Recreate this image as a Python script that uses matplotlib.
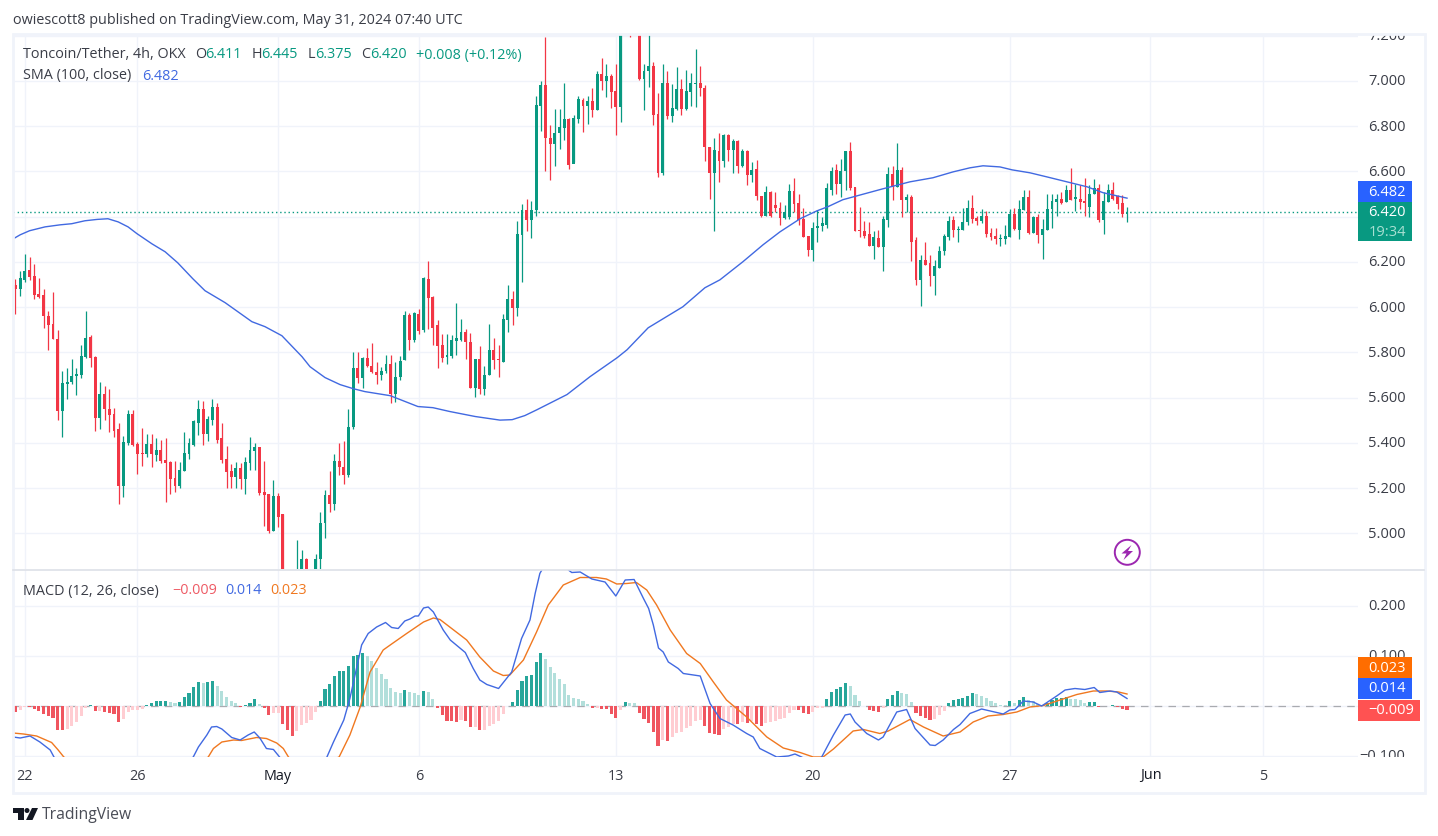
import numpy as np
import matplotlib
matplotlib.use('Agg')
import matplotlib.pyplot as plt
from matplotlib.patches import Circle, Polygon, Rectangle

plt.rcParams['font.family'] = ['Open Sans', 'DejaVu Sans']

# 4h candles, first one is Apr 21 16:00
opens = [
    6.10, 6.08, 6.12, 6.165, 6.14, 6.06, 6.055, 5.96, 5.925, 5.86,
    5.54, 5.66, 5.67, 5.695, 5.70, 5.78, 5.87, 5.78, 5.51, 5.615,
    5.55, 5.53, 5.46, 5.21, 5.40, 5.53, 5.395, 5.355, 5.35, 5.395,
    5.345, 5.37, 5.325, 5.315, 5.245, 5.21, 5.275, 5.35, 5.39, 5.49,
    5.55, 5.44, 5.50, 5.56, 5.42, 5.33, 5.275, 5.25, 5.29, 5.24,
    5.31, 5.365, 5.38, 5.185, 5.175, 5.01, 5.165, 5.085, 4.80, 4.72,
    4.70, 4.78, 4.885, 4.80, 4.78, 4.885, 5.045, 5.17, 5.13, 5.32,
    5.295, 5.26, 5.47, 5.73, 5.685, 5.775, 5.74, 5.715, 5.70, 5.72,
    5.75, 5.615, 5.69, 5.765, 5.965, 5.855, 5.97, 5.90, 6.125, 6.045,
    5.92, 5.835, 5.78, 5.785, 5.85, 5.855, 5.89, 5.845, 5.645, 5.77,
    5.64, 5.70, 5.81, 5.77, 5.76, 5.945, 6.035, 5.995, 6.32, 6.43,
    6.385, 6.43, 6.89, 6.98, 6.75, 6.72, 6.77, 6.79, 6.83, 6.635,
    6.83, 6.915, 6.89, 6.91, 6.87, 7.03, 7.00, 7.02, 6.955, 6.885,
    7.40, 7.45, 7.35, 7.40, 7.01, 7.045, 7.065, 6.855, 6.595, 6.99,
    6.845, 6.875, 6.965, 6.875, 6.95, 6.985, 6.99, 6.97, 6.71, 6.595,
    6.69, 6.645, 6.76, 6.695, 6.735, 6.625, 6.69, 6.585, 6.61, 6.49,
    6.405, 6.51, 6.45, 6.44, 6.395, 6.40, 6.515, 6.46, 6.39, 6.315,
    6.255, 6.35, 6.36, 6.365, 6.52, 6.605, 6.545, 6.60, 6.69, 6.53,
    6.34, 6.335, 6.325, 6.27, 6.305, 6.265, 6.385, 6.59, 6.53, 6.605,
    6.475, 6.485, 6.295, 6.12, 6.21, 6.195, 6.14, 6.175, 6.25, 6.31,
    6.385, 6.34, 6.34, 6.375, 6.44, 6.395, 6.38, 6.405, 6.33, 6.315,
    6.30, 6.30, 6.31, 6.41, 6.34, 6.43, 6.485, 6.33, 6.40, 6.32,
    6.34, 6.435, 6.465, 6.48, 6.465, 6.52, 6.48, 6.48, 6.47, 6.445,
    6.50, 6.525, 6.385, 6.465, 6.52, 6.49, 6.46, 6.411,
]
highs = [
    6.125, 6.16, 6.235, 6.22, 6.19, 6.13, 6.08, 5.985, 6.065, 5.90,
    5.72, 5.73, 5.77, 5.73, 5.835, 5.985, 5.875, 5.785, 5.67, 5.65,
    5.64, 5.555, 5.49, 5.43, 5.545, 5.545, 5.405, 5.465, 5.44, 5.44,
    5.42, 5.415, 5.42, 5.32, 5.32, 5.315, 5.45, 5.42, 5.50, 5.59,
    5.585, 5.52, 5.595, 5.575, 5.49, 5.385, 5.305, 5.315, 5.31, 5.34,
    5.425, 5.40, 5.38, 5.32, 5.175, 5.235, 5.18, 5.085, 4.82, 4.74,
    4.97, 4.925, 4.89, 4.84, 4.91, 5.095, 5.19, 5.275, 5.35, 5.40,
    5.41, 5.55, 5.80, 5.80, 5.78, 5.82, 5.84, 5.76, 5.735, 5.79,
    5.79, 5.76, 5.785, 5.985, 5.975, 5.98, 5.99, 6.135, 6.205, 6.05,
    5.945, 5.88, 5.88, 5.875, 6.02, 5.95, 5.905, 5.885, 5.77, 5.83,
    5.74, 5.925, 5.865, 5.835, 5.97, 6.10, 6.07, 6.38, 6.455, 6.48,
    6.47, 6.935, 7.00, 7.195, 6.805, 6.875, 6.875, 6.99, 6.835, 6.85,
    6.935, 6.925, 6.935, 6.97, 7.045, 7.10, 7.075, 7.03, 7.075, 7.50,
    7.52, 7.50, 7.46, 7.45, 7.075, 7.22, 7.085, 6.945, 7.075, 7.045,
    6.985, 7.06, 7.01, 7.05, 7.035, 7.14, 7.065, 6.98, 6.71, 6.75,
    6.77, 6.765, 6.765, 6.745, 6.74, 6.70, 6.695, 6.64, 6.65, 6.49,
    6.535, 6.515, 6.51, 6.465, 6.45, 6.545, 6.57, 6.50, 6.44, 6.315,
    6.375, 6.43, 6.40, 6.55, 6.62, 6.635, 6.655, 6.69, 6.73, 6.53,
    6.445, 6.38, 6.375, 6.335, 6.34, 6.405, 6.62, 6.625, 6.725, 6.62,
    6.50, 6.495, 6.31, 6.23, 6.29, 6.23, 6.21, 6.27, 6.325, 6.405,
    6.405, 6.36, 6.44, 6.475, 6.495, 6.405, 6.435, 6.425, 6.35, 6.35,
    6.325, 6.365, 6.435, 6.44, 6.475, 6.52, 6.52, 6.405, 6.41, 6.39,
    6.50, 6.50, 6.50, 6.51, 6.54, 6.615, 6.545, 6.54, 6.57, 6.54,
    6.565, 6.545, 6.51, 6.545, 6.555, 6.495, 6.495, 6.445,
]
lows = [
    5.97, 6.05, 6.11, 6.12, 6.035, 6.04, 5.91, 5.81, 5.86, 5.50,
    5.425, 5.595, 5.66, 5.61, 5.685, 5.775, 5.735, 5.455, 5.46, 5.50,
    5.45, 5.425, 5.13, 5.16, 5.39, 5.385, 5.265, 5.30, 5.34, 5.295,
    5.32, 5.31, 5.14, 5.175, 5.185, 5.20, 5.275, 5.33, 5.385, 5.435,
    5.39, 5.41, 5.48, 5.40, 5.31, 5.20, 5.20, 5.20, 5.195, 5.175,
    5.28, 5.28, 5.17, 5.035, 5.00, 5.01, 5.03, 4.75, 4.68, 4.62,
    4.68, 4.75, 4.77, 4.74, 4.75, 4.80, 4.98, 5.095, 5.105, 5.26,
    5.22, 5.25, 5.46, 5.665, 5.645, 5.735, 5.71, 5.66, 5.68, 5.71,
    5.575, 5.58, 5.68, 5.765, 5.81, 5.845, 5.88, 5.89, 5.905, 5.835,
    5.73, 5.76, 5.75, 5.775, 5.79, 5.85, 5.77, 5.645, 5.605, 5.615,
    5.61, 5.70, 5.725, 5.69, 5.76, 5.89, 5.92, 5.96, 6.11, 6.335,
    6.305, 6.405, 6.78, 6.60, 6.56, 6.625, 6.70, 6.74, 6.61, 6.64,
    6.815, 6.775, 6.81, 6.84, 6.87, 6.96, 6.93, 6.88, 6.76, 6.82,
    7.35, 7.195, 7.30, 7.005, 6.87, 6.975, 6.805, 6.575, 6.585, 6.83,
    6.82, 6.87, 6.85, 6.87, 6.89, 6.885, 6.935, 6.645, 6.48, 6.335,
    6.555, 6.62, 6.645, 6.595, 6.595, 6.62, 6.54, 6.555, 6.475, 6.40,
    6.405, 6.40, 6.42, 6.365, 6.39, 6.39, 6.42, 6.365, 6.31, 6.225,
    6.205, 6.29, 6.335, 6.35, 6.495, 6.50, 6.485, 6.52, 6.52, 6.335,
    6.31, 6.305, 6.27, 6.215, 6.265, 6.16, 6.355, 6.475, 6.53, 6.40,
    6.42, 6.205, 6.10, 6.005, 6.185, 6.095, 6.055, 6.175, 6.23, 6.295,
    6.31, 6.29, 6.34, 6.365, 6.37, 6.365, 6.37, 6.31, 6.295, 6.28,
    6.27, 6.28, 6.31, 6.34, 6.30, 6.43, 6.325, 6.33, 6.285, 6.215,
    6.34, 6.35, 6.405, 6.455, 6.465, 6.475, 6.425, 6.435, 6.405, 6.40,
    6.50, 6.375, 6.325, 6.465, 6.475, 6.435, 6.40, 6.375,
]
closes = [
    6.08, 6.13, 6.16, 6.135, 6.055, 6.045, 5.96, 5.92, 5.86, 5.54,
    5.665, 5.67, 5.695, 5.705, 5.785, 5.865, 5.775, 5.51, 5.615, 5.55,
    5.525, 5.455, 5.21, 5.405, 5.53, 5.39, 5.35, 5.35, 5.395, 5.35,
    5.37, 5.32, 5.31, 5.24, 5.21, 5.28, 5.355, 5.40, 5.495, 5.55,
    5.44, 5.505, 5.56, 5.415, 5.325, 5.27, 5.25, 5.29, 5.24, 5.315,
    5.37, 5.38, 5.18, 5.17, 5.01, 5.165, 5.075, 4.80, 4.72, 4.68,
    4.78, 4.885, 4.80, 4.78, 4.885, 5.045, 5.17, 5.13, 5.32, 5.295,
    5.26, 5.47, 5.73, 5.685, 5.775, 5.74, 5.715, 5.70, 5.72, 5.75,
    5.615, 5.69, 5.763, 5.965, 5.855, 5.975, 5.895, 6.13, 6.04, 5.91,
    5.83, 5.775, 5.79, 5.855, 5.865, 5.89, 5.845, 5.645, 5.77, 5.64,
    5.70, 5.81, 5.765, 5.765, 5.95, 6.035, 5.995, 6.325, 6.43, 6.385,
    6.43, 6.895, 6.98, 6.75, 6.72, 6.77, 6.795, 6.83, 6.63, 6.835,
    6.92, 6.89, 6.91, 6.87, 7.03, 7.00, 7.02, 6.95, 6.885, 7.40,
    7.45, 7.35, 7.40, 7.01, 7.045, 7.065, 6.85, 6.595, 6.99, 6.845,
    6.88, 6.965, 6.875, 6.955, 6.99, 6.99, 6.97, 6.71, 6.595, 6.695,
    6.645, 6.76, 6.695, 6.735, 6.625, 6.69, 6.585, 6.605, 6.49, 6.405,
    6.51, 6.405, 6.44, 6.395, 6.42, 6.515, 6.455, 6.385, 6.31, 6.255,
    6.35, 6.36, 6.37, 6.525, 6.60, 6.545, 6.60, 6.69, 6.525, 6.335,
    6.335, 6.315, 6.27, 6.31, 6.265, 6.39, 6.59, 6.53, 6.605, 6.475,
    6.485, 6.29, 6.12, 6.21, 6.185, 6.14, 6.18, 6.25, 6.315, 6.38,
    6.34, 6.345, 6.375, 6.44, 6.39, 6.38, 6.405, 6.325, 6.31, 6.30,
    6.30, 6.315, 6.41, 6.345, 6.435, 6.485, 6.33, 6.40, 6.32, 6.345,
    6.435, 6.47, 6.48, 6.46, 6.52, 6.475, 6.48, 6.465, 6.46, 6.50,
    6.525, 6.385, 6.47, 6.52, 6.48, 6.455, 6.41, 6.42,
]

sma_idx = [
    -0.5, 1, 3, 6.3, 9.5, 12, 14.8, 17.4, 19.7, 21.9, 24, 25.9, 29.1, 31.9,
    34.6, 37.8, 40.4, 44.7, 50.4, 53.2, 56.8, 61.1, 62.8, 66, 69.2, 72, 74.5,
    79.9, 85.8, 89, 92.6, 98, 103.3, 105.9, 108.6, 111.2, 117.6, 122.5, 128.3,
    130.4, 134.9, 142.3, 147, 150.2, 155.1, 159.4, 163, 167.3, 170.9, 173.2,
    176.4, 179.4, 184.9, 190.7, 195.6, 199.9, 203.5, 206.3, 209.9, 212.5,
    216.3, 219.9, 224.2, 228.5, 231.9, 237,
]
sma_vals = [
    6.302, 6.32, 6.338, 6.355, 6.364, 6.369, 6.382, 6.388, 6.391, 6.377, 6.355,
    6.325, 6.28, 6.245, 6.196, 6.126, 6.073, 6.02, 5.936, 5.914, 5.874, 5.781,
    5.737, 5.689, 5.658, 5.64, 5.627, 5.609, 5.561, 5.556, 5.539, 5.517, 5.501,
    5.503, 5.521, 5.547, 5.614, 5.693, 5.777, 5.812, 5.909, 6.002, 6.086, 6.121,
    6.201, 6.276, 6.333, 6.391, 6.426, 6.444, 6.475, 6.492, 6.523, 6.554, 6.572,
    6.598, 6.616, 6.625, 6.62, 6.607, 6.594, 6.576, 6.554, 6.532, 6.506, 6.482,
]

macd_idx = [
    -0.5, 1, 3.1, 5.2, 7.4, 8.2, 12, 20, 30, 37.9, 39, 40.8, 41.8, 42.9, 44,
    46.1, 47.9, 49.6, 50.9, 52.1, 53.5, 55, 56.3, 60, 64, 66.4, 67.8, 70, 71.3,
    72.4, 73.8, 75.2, 77, 78.9, 80.2, 81.6, 83, 84.1, 85.2, 85.9, 87, 88, 89.1,
    91.2, 92.7, 95.9, 97.6, 99, 100.5, 103, 105.8, 107.9, 109.7, 110.8, 111.8,
    114, 117, 117.9, 118.6, 120.4, 122.9, 125.7, 128, 130, 131.9, 133.9, 135,
    136, 137.1, 138.1, 139.2, 141.3, 142.4, 146, 148.1, 150.2, 153, 155.9,
    157.3, 158.7, 162.3, 164.8, 166.2, 167.6, 170, 171.9, 174.4, 176.9, 178,
    179, 181.5, 184, 185, 187.9, 190, 191.8, 195, 196.1, 197.8, 200, 201.4,
    203.5, 206, 210.6, 212, 213.1, 214.9, 217, 218.8, 222, 223.8, 225.9, 228,
    230, 231.2, 233.4, 234.8, 237,
]
macd_vals = [
    -0.063, -0.065, -0.061, -0.073, -0.089, -0.103, -0.14, -0.19, -0.16, -0.103,
    -0.083, -0.059, -0.043, -0.042, -0.047, -0.064, -0.069, -0.059, -0.053,
    -0.065, -0.086, -0.088, -0.103, -0.14, -0.14, -0.103, -0.073, -0.029, 0.014,
    0.061, 0.121, 0.144, 0.157, 0.166, 0.156, 0.154, 0.169, 0.173, 0.179, 0.179,
    0.195, 0.197, 0.187, 0.151, 0.131, 0.106, 0.074, 0.051, 0.042, 0.034, 0.067,
    0.134, 0.171, 0.224, 0.264, 0.30, 0.29, 0.271, 0.266, 0.267, 0.253, 0.247,
    0.219, 0.251, 0.252, 0.214, 0.194, 0.161, 0.115, 0.107, 0.087, 0.074, 0.064,
    0.059, 0.004, -0.026, -0.039, -0.056, -0.063, -0.086, -0.103, -0.101, -0.097,
    -0.103, -0.115, -0.103, -0.059, -0.019, -0.017, -0.033, -0.056, -0.069,
    -0.063, -0.013, -0.008, -0.046, -0.079, -0.08, -0.069, -0.048, -0.038, -0.016,
    -0.007, -0.017, -0.009, -0.008, 0.009, 0.007, -0.001, 0.019, 0.031, 0.034,
    0.032, 0.036, 0.026, 0.029, 0.027, 0.014,
]
signal_idx = [
    -0.5, 1.7, 4.5, 7.7, 9.1, 10.3, 20, 30, 41.1, 42.2, 44, 46.5, 48.2, 51.4,
    53.5, 55.7, 57.1, 58.2, 62, 69, 71.3, 73.5, 75.6, 78.4, 80.2, 83.4, 87, 89.1,
    90.5, 94.4, 96.2, 99, 101.9, 104, 105.4, 108.3, 111.1, 113.6, 116.8, 120.4,
    123.9, 126, 128.2, 130.3, 132.4, 134.6, 136.7, 139.6, 143.1, 146, 148.8,
    151.6, 155.9, 160.2, 163.7, 167.3, 170.1, 172.2, 174.4, 178.6, 180.8, 184.3,
    186.1, 190.7, 193.6, 197.8, 201.4, 204.2, 207.4, 210.6, 213.5, 216.3, 219.2,
    222.7, 226.3, 229.8, 232.7, 235.2, 237,
]
signal_vals = [
    -0.055, -0.057, -0.061, -0.074, -0.089, -0.103, -0.16, -0.17, -0.103, -0.086,
    -0.073, -0.069, -0.07, -0.064, -0.066, -0.075, -0.086, -0.103, -0.13, -0.103,
    -0.059, -0.003, 0.067, 0.111, 0.123, 0.144, 0.167, 0.175, 0.172, 0.144, 0.131,
    0.097, 0.069, 0.06, 0.061, 0.091, 0.147, 0.201, 0.241, 0.256, 0.256, 0.253,
    0.243, 0.244, 0.246, 0.231, 0.201, 0.151, 0.104, 0.084, 0.047, 0.011, -0.023,
    -0.063, -0.085, -0.094, -0.103, -0.103, -0.087, -0.051, -0.048, -0.056,
    -0.051, -0.028, -0.043, -0.061, -0.053, -0.033, -0.021, -0.018, -0.013,
    -0.003, 0.0, 0.011, 0.022, 0.029, 0.029, 0.027, 0.023,
]
hist_vals = [
    -.012, -.009, -.002, -.003, -.006, -.010, -.016, -.020, -.024, -.048,
    -.049, -.046, -.040, -.032, -.020, -.004, .002, -.011, -.011, -.013,
    -.015, -.017, -.032, -.027, -.012, -.009, -.008, -.007, .001, .005,
    .009, .0095, .010, .007, .005, .008, .017, .025, .037, .047,
    .046, .047, .049, .040, .029, .017, .010, .005, -.002, .001,
    .006, .013, .003, -.005, -.018, -.015, -.014, -.037, -.048, -.061,
    -.050, -.038, -.034, -.029, -.012, .009, .033, .043, .060, .069,
    .070, .079, .099, .102, .106, .100, .090, .075, .064, .054,
    .036, .027, .025, .031, .027, .026, .021, .029, .027, .014,
    -.005, -.019, -.030, -.031, -.032, -.029, -.030, -.043, -.042, -.049,
    -.048, -.040, -.036, -.031, -.017, -.001, .007, .031, .050, .059,
    .061, .087, .105, .093, .077, .065, .053, .043, .021, .015,
    .014, .009, .004, -.005, -.004, -.006, -.007, -.016, -.025, -.008,
    .007, .006, .005, -.015, -.027, -.035, -.053, -.080, -.069, -.071,
    -.063, -.055, -.053, -.045, -.040, -.030, -.029, -.040, -.055, -.057,
    -.058, -.047, -.043, -.036, -.037, -.032, -.035, -.030, -.037, -.040,
    -.035, -.033, -.030, -.027, -.025, -.015, -.009, -.0095, -.014, -.017,
    -.012, -.005, -.004, .014, .028, .034, .038, .045, .039, .022,
    .009, -.001, -.009, -.011, -.012, -.005, .014, .021, .029, .025,
    .023, .007, -.015, -.021, -.025, -.029, -.027, -.019, -.010, .005,
    .011, .014, .015, .019, .025, .024, .020, .015, .010, .006,
    .002, .001, .009, .006, .012, .018, .011, .010, .004, .002,
    .006, .012, .015, .016, .017, .014, .013, .011, .006, .007,
    .008, -.002, -.0015, -.001, .001, -.002, -.007, -.009,
]

price_ticks = [7.2, 7.0, 6.8, 6.6, 6.4, 6.2, 6.0, 5.8, 5.6, 5.4, 5.2, 5.0]
macd_ticks = [0.2, 0.1, -0.1]
date_labels = ['22', '26', 'May', '6', '13', '20', '27', 'Jun', '5']
date_candles = [2, 26, 56, 86, 128, 170, 212, 242, 266]

GREEN = '#089981'
RED = '#F23645'
BLUE = '#4169E1'
ORANGE = '#F07820'
GRID = '#F0F3FA'
TEXT = '#3A3D47'
W, H = 1438, 836
CHART_L, CHART_R, SCALE_R = 13, 1358, 1424


def pane(left, right, top, bottom):
    return fig.add_axes([left / W, 1 - bottom / H, (right - left) / W, (bottom - top) / H])


def style_pane(ax, ylim, ticks):
    ax.set_xlim(-0.533, 286.25)
    ax.set_ylim(*ylim)
    ax.set_xticks(date_candles)
    ax.set_yticks(ticks)
    ax.tick_params(length=0, labelbottom=False, labelleft=False)
    ax.grid(color=GRID, lw=1)
    ax.set_axisbelow(True)
    for s in ax.spines.values():
        s.set_visible(False)


def scale_labels(ax, ylim, ticks):
    ax.set_xlim(0, 1)
    ax.set_ylim(*ylim)
    ax.axis('off')
    for t in ticks:
        ax.annotate(f'{t:.3f}'.replace('-', '\u2212'), (0.72, t), xytext=(0, -1),
                    textcoords='offset pixels', ha='right', va='center',
                    fontsize=10.5, color=TEXT, annotation_clip=False, clip_on=True)


fig = plt.figure(figsize=(W / 100, H / 100), dpi=100, facecolor='white')

# price pane
price_lim = (4.843, 7.203)
ax = pane(CHART_L, CHART_R, 35, 569)
style_pane(ax, price_lim, price_ticks)
o, h, l, c = map(np.array, (opens, highs, lows, closes))
x = np.arange(len(o))
candle_colors = [GREEN if up else RED for up in c >= o]
ax.vlines(x, l, h, colors=candle_colors, lw=0.9, zorder=2)
ax.bar(x, np.maximum(np.abs(c - o), 0.006), bottom=np.minimum(o, c), width=0.62,
       color=candle_colors, lw=0, zorder=3)
ax.plot(sma_idx, sma_vals, color=BLUE, lw=1.0, zorder=4)
ax.axhline(closes[-1], color=GREEN, lw=1, ls=(0, (1, 2)), zorder=1)

# macd pane
macd_lim = (-0.103, 0.271)
ax2 = pane(CHART_L, CHART_R, 570, 757)
style_pane(ax2, macd_lim, macd_ticks + [0.0])
hist = np.array(hist_vals)
prev = np.concatenate(([hist[0] + 0.003], hist[:-1]))
bar_colors = []
for v, p in zip(hist, prev):
    if v >= 0:
        bar_colors.append('#26A69A' if v > p else '#B2DFDB')
    else:
        bar_colors.append('#FFCDD2' if v >= p else '#F0555F')
ax2.bar(x, hist, width=0.66, color=bar_colors, lw=0, zorder=2)
ax2.axhline(0, color='#A9ABB0', lw=0.9, ls=(0, (6, 5)), zorder=1)
ax2.plot(signal_idx, signal_vals, color=ORANGE, lw=1.0, zorder=3)
ax2.plot(macd_idx, macd_vals, color=BLUE, lw=1.0, zorder=4)

# value scales on the right, labels get cut at the pane edge
# 6.400 stays off, it sits right behind the last price box
scale1 = pane(CHART_R, SCALE_R, 35, 569)
scale_labels(scale1, price_lim, [t for t in price_ticks if t != 6.4])
scale2 = pane(CHART_R, SCALE_R, 570, 757)
scale_labels(scale2, macd_lim, macd_ticks)

# everything else sits on a pixel sized layer
top = fig.add_axes([0, 0, 1, 1], facecolor='none')
top.set_xlim(0, W)
top.set_ylim(H, 0)
top.axis('off')
top.add_patch(Rectangle((13, 33.5), 1412, 759, fc='none', ec=GRID, lw=2))
top.plot([13, 1424], [569.5, 569.5], color='#DDE0E7', lw=1.2)


def label(px, py, s, color=TEXT, size=10.4, **kw):
    top.text(px, py + 1, s, color=color, fontsize=size, va='center', **kw)


label(13, 19.5, 'owiescott8 published on TradingView.com, May 31, 2024 07:40 UTC')
label(23, 54, 'Toncoin/Tether, 4h, OKX')
for px, s in [(195, 'O'), (252, 'H'), (308, 'L'), (361, 'C')]:
    label(px, 54, s)
for px, s in [(205, '6.411'), (261, '6.445'), (315, '6.375'), (370, '6.420'),
              (416, '+0.008 (+0.12%)')]:
    label(px, 54, s, color=GREEN)
label(23, 75, 'SMA (100, close)')
label(142, 75, '6.482', color=BLUE)
label(23, 590, 'MACD (12, 26, close)')
label(172, 590, '\u22120.009', color='#EE5A64')
label(225, 590, '0.014', color=BLUE)
label(270, 590, '0.023', color=ORANGE)

for name, idx in zip(date_labels, date_candles):
    top.text(15.5 + 4.69 * idx, 776, name, ha='center', va='center', fontsize=10.4,
             color='#131722' if name in ('May', 'Jun') else TEXT)

# last value boxes
boxes = [(181, 21, 54, '#2962FF'), (202, 39, 54, GREEN), (657, 21, 54, '#FF6D00'),
         (678, 21, 54, '#2962FF'), (700, 21, 62, '#FF5252')]
for by, bh, bw, col in boxes:
    top.add_patch(Rectangle((1358, by), bw, bh, fc=col, ec='none'))
label(1368, 191, '6.482', color='white', size=10.5)
label(1368, 212, '6.420', color='white', size=10.5)
label(1369, 231, '19:34', color='#A8E0D2', size=10.5)
label(1368, 667, '0.023', color='white', size=10.5)
label(1368, 688, '0.014', color='white', size=10.5)
label(1368, 710, '\u22120.009', color='white', size=10.5)

# lightning badge
top.add_patch(Circle((1127.3, 552.3), 12.5, fc='white', ec='#9C27B0', lw=1.4))
top.add_patch(Polygon([(1131.5, 545), (1121.5, 553.5), (1126.5, 553.5), (1123.5, 560),
                       (1133, 551), (1128, 551)], fc='#9C27B0', ec='none'))

# TradingView logo
logo = '#131722'
top.add_patch(Polygon([(13, 808), (23.5, 808), (23.5, 820), (18, 820), (18, 813), (13, 813)],
                      fc=logo, ec='none'))
top.add_patch(Circle((27, 810.5), 2.5, fc=logo, ec='none'))
top.add_patch(Polygon([(32, 808), (38, 808), (32.5, 820), (26, 820)], fc=logo, ec='none'))
label(42, 814, 'TradingView', color='#4A4D57', size=11.3)

fig.savefig('out.png', dpi=100)
